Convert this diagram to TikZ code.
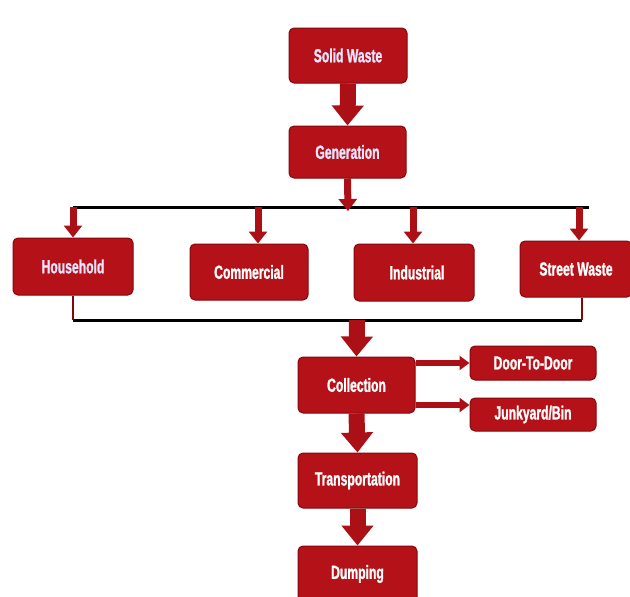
\documentclass[tikz,border=0pt]{standalone}
\usepackage{fontspec}
\setmainfont{Liberation Sans}[FakeStretch=0.64,BoldFeatures={FakeBold=1.2}]
\usetikzlibrary{arrows.meta}
\definecolor{boxred}{RGB}{180,18,24}
\definecolor{boxedge}{RGB}{130,8,12}
\definecolor{arrred}{RGB}{170,16,22}
\definecolor{lav}{RGB}{236,228,255}
\tikzset{
  box/.style={draw=boxedge, line width=1pt, fill=boxred, rounded corners=5pt,
    text=white, font=\bfseries\fontsize{19}{19}\selectfont, inner sep=0pt, align=center},
  bigarrow/.style={draw=arrred, line width=16pt, -{Triangle[length=20pt,width=31pt]}},
  smallarrow/.style={draw=arrred, line width=7pt, -{Triangle[length=12pt,width=18pt]}},
  sidearrow/.style={draw=arrred, line width=6pt, -{Triangle[length=10pt,width=14pt]}},
  busline/.style={draw=black, line width=3pt},
  stem/.style={draw=boxedge, line width=2pt},
}
\begin{document}
\begin{tikzpicture}[x=1pt,y=-1pt]
\clip (0,0) rectangle (630,597);
\fill[white] (0,0) rectangle (630,597);
% boxes
\node[box, minimum width=118pt, minimum height=55pt, text=lav] (sw0) at (348,55.5) {Solid Waste};
\node[box, minimum width=117pt, minimum height=52pt, text=lav] (gen) at (347.5,152) {Generation};
\node[box, minimum width=120pt, minimum height=57pt, text=lav] (hh) at (73,266.5) {Household};
\node[box, minimum width=118pt, minimum height=56pt] (com) at (249,272) {Commercial};
\node[box, minimum width=120pt, minimum height=57pt] (ind) at (414,272.5) {\hspace*{6pt}Industrial};
\node[box, minimum width=112pt, minimum height=56pt] (sw) at (576,269) {Street Waste};
\node[box, minimum width=117pt, minimum height=56pt] (col) at (356.5,385) {Collection};
\node[box, minimum width=126pt, minimum height=34pt] (dtd) at (533,363) {Door-To-Door};
\node[box, minimum width=126pt, minimum height=33pt] (jb) at (533,414.5) {Junkyard/Bin};
\node[box, minimum width=119pt, minimum height=55pt] (tr) at (357.5,480.5) {Transportation};
\node[box, minimum width=119pt, minimum height=56pt] (dum) at (357.5,574) {Dumping};
% coordinates
\coordinate (t1) at (73,207);
\coordinate (t2) at (589,207);
\coordinate (tg) at (348,211);
\coordinate (tc) at (258,207);
\coordinate (ti) at (413,207);
\coordinate (ts) at (579,207);
\coordinate (b1) at (73,320);
\coordinate (b2) at (582,320);
\coordinate (bc) at (357,320);
% bus lines
\draw[busline] (t1) -- (t2);
\draw[busline] (b1) -- (b2);
% big arrows
\draw[bigarrow] (sw0.south) -- (gen.north);
\draw[bigarrow] (bc) -- (col.north);
\draw[bigarrow] (col.south) -- (tr.north);
\draw[bigarrow] (tr.south) -- (dum.north);
% small arrows
\draw[smallarrow] (gen.south) -- (tg);
\draw[smallarrow] (t1) -- (hh.north);
\draw[smallarrow] (tc) -- (tc |- com.north);
\draw[smallarrow] (ti) -- (ti |- ind.north);
\draw[smallarrow] (ts) -- (ts |- sw.north);
% stems
\draw[stem] (hh.south) -- (b1);
\draw[stem] (b2 |- sw.south) -- (b2);
% side arrows
\draw[sidearrow] (col.east |- dtd.west) -- (dtd.west);
\draw[sidearrow] (col.east |- 0,405) -- (jb.west |- 0,405);
\end{tikzpicture}
\end{document}
